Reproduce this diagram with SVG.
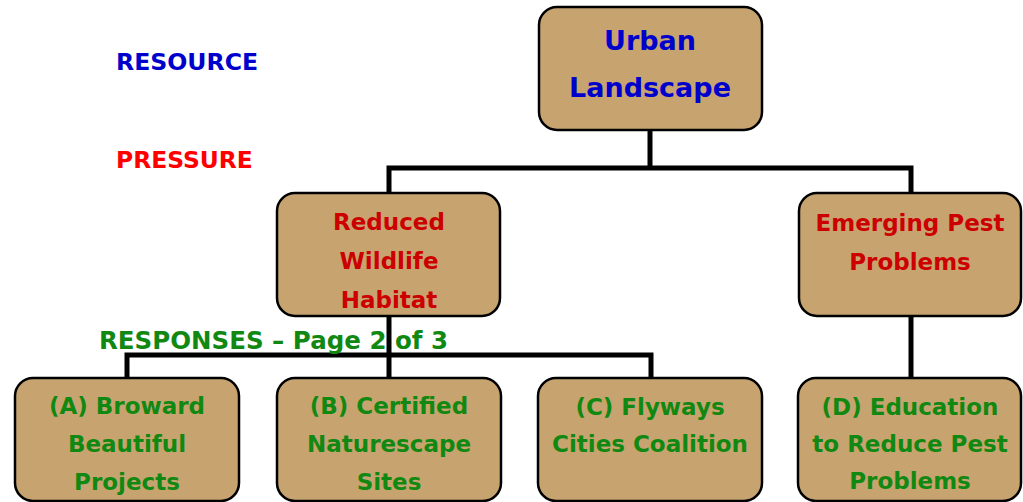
<svg xmlns="http://www.w3.org/2000/svg" width="1023" height="502" viewBox="0 0 1023 502">
<style>
.box{fill:#C7A46F;stroke:#000;stroke-width:2.5}
.t{font-family:"DejaVu Sans",sans-serif;font-weight:bold;text-anchor:middle}
.n{font-size:23px}
.blue{fill:#0000CC}
.red{fill:#CC0000}
.green{fill:#118811}
.conn{fill:none;stroke:#000;stroke-width:5;stroke-linejoin:miter}
</style>
<rect width="1023" height="502" fill="#fff"/>
<g id="connectors" class="conn">
<path d="M650 130 V168"/>
<path d="M389 193 V168 H911 V193"/>
<path d="M389 316 V378"/>
<path d="M127 378 V355 H651 V378"/>
<path d="M911 316 V378"/>
</g>
<g id="labels">
<text x="116" y="70" font-size="23.6" class="blue" style="font-family:'DejaVu Sans',sans-serif;font-weight:bold">RESOURCE</text>
<text x="116" y="168" font-size="23.4" fill="#FF0000" style="font-family:'DejaVu Sans',sans-serif;font-weight:bold">PRESSURE</text>
<text x="99" y="349" font-size="24.5" class="green" style="font-family:'DejaVu Sans',sans-serif;font-weight:bold">RESPONSES – Page 2 of 3</text>
</g>
<g id="urban">
<rect class="box" x="539" y="7" width="223" height="123" rx="18"/>
<text class="t blue" font-size="27" x="650" y="50">Urban</text>
<text class="t blue" font-size="27" x="650" y="97">Landscape</text>
</g>
<g id="reduced">
<rect class="box" x="277" y="193" width="223" height="123" rx="18"/>
<text class="t n red" x="389" y="230">Reduced</text>
<text class="t n red" x="389" y="269">Wildlife</text>
<text class="t n red" x="389" y="308">Habitat</text>
</g>
<g id="emerging">
<rect class="box" x="799" y="193" width="222" height="123" rx="18"/>
<text class="t n red" x="910" y="231">Emerging Pest</text>
<text class="t n red" x="910" y="270">Problems</text>
</g>
<g id="nodeA">
<rect class="box" x="15" y="378" width="224" height="123" rx="18"/>
<text class="t n green" x="127" y="414">(A) Broward</text>
<text class="t n green" x="127" y="452">Beautiful</text>
<text class="t n green" x="127" y="490">Projects</text>
</g>
<g id="nodeB">
<rect class="box" x="277" y="378" width="224" height="123" rx="18"/>
<text class="t n green" x="389" y="414">(B) Certified</text>
<text class="t n green" x="389" y="452">Naturescape</text>
<text class="t n green" x="389" y="490">Sites</text>
</g>
<g id="nodeC">
<rect class="box" x="538" y="378" width="224" height="123" rx="18"/>
<text class="t n green" x="650" y="415">(C) Flyways</text>
<text class="t n green" x="650" y="452">Cities Coalition</text>
</g>
<g id="nodeD">
<rect class="box" x="798" y="378" width="223" height="123" rx="18"/>
<text class="t n green" x="910" y="415">(D) Education</text>
<text class="t n green" x="910" y="452">to Reduce Pest</text>
<text class="t n green" x="910" y="489">Problems</text>
</g>
</svg>
